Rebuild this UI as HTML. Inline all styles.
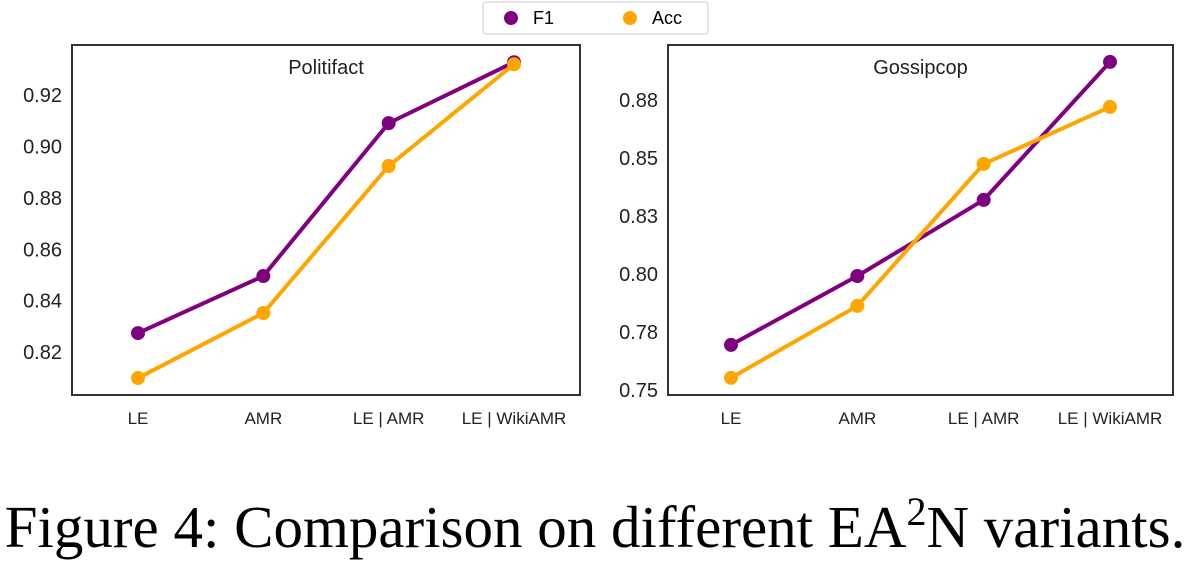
<!DOCTYPE html>
<html><head><meta charset="utf-8"><style>
body{margin:0;background:#fff;width:1191px;height:570px;overflow:hidden}
svg text{font-family:"Liberation Sans",sans-serif}
</style></head><body>
<svg id="chart" width="1191" height="570">
<g id="legend">
<rect x="483" y="2" width="225" height="32" rx="3" fill="#fff" stroke="#ccc"/>
<circle cx="511" cy="18" r="7" fill="#800080"/>
<text x="533" y="24" font-size="18">F1</text>
<circle cx="630" cy="18" r="7" fill="#FFA500"/>
<text x="652" y="24" font-size="18">Acc</text>
</g>
<text x="595" y="547" font-size="59" text-anchor="middle" style="font-family:'Liberation Serif',serif">Figure 4: Comparison on different EA<tspan dy="-22" font-size="40">2</tspan><tspan dy="22">N variants.</tspan></text>
</svg>
<script>
const categories=["LE","AMR","LE | AMR","LE | WikiAMR"];
const politiF1=[0.8274,0.8496,0.9091,0.9328];
const politiAcc=[0.8099,0.8352,0.8924,0.9320];
const gossipF1=[0.7694,0.7991,0.8319,0.8914];
const gossipAcc=[0.7552,0.7862,0.8474,0.8720];
const politiTicks=[0.82,0.84,0.86,0.88,0.90,0.92];
const politiTickLabels=["0.82","0.84","0.86","0.88","0.90","0.92"];
const gossipTicks=[0.75,0.775,0.80,0.825,0.85,0.875];
const gossipTickLabels=["0.75","0.78","0.80","0.83","0.85","0.88"];
const svg=document.getElementById('chart');
const NS="http://www.w3.org/2000/svg";
function mk(t,a,p){const e=document.createElementNS(NS,t);for(const k in a)e.setAttribute(k,a[k]);(p||svg).appendChild(e);return e;}
function panel(o){
  const g=mk('g',{});
  
  
  const x=i=>o.x0+o.xPad+i*(o.x1-o.x0-2*o.xPad)/(categories.length-1);
  const y=v=>o.y1-(v-o.vmin)/(o.vmax-o.vmin)*(o.y1-o.y0);
  const fr=mk('rect',{x:o.x0,y:o.y0,width:o.x1-o.x0,height:o.y1-o.y0,fill:'none',stroke:'#333','stroke-width':2},g);
  
  
  o.ticks.forEach((t,i)=>{
    const tx=mk('text',{x:o.x0-10,y:y(t)+7,'font-size':20,'text-anchor':'end',fill:'#222'},g);
    tx.textContent=o.labels[i];
    
    
  });
  categories.forEach((c,i)=>{
    const tx=mk('text',{x:x(i),y:o.y1+29,'font-size':17,'text-anchor':'middle',fill:'#222'},g);
    tx.textContent=c;
    
    
  });
  const ti=mk('text',{x:(o.x0+o.x1)/2,y:o.y0+29,'font-size':20,'text-anchor':'middle',fill:'#222'},g);
  ti.textContent=o.title;
  
  
  [[o.f1,'#800080','f1'],[o.acc,'#FFA500','acc']].forEach(([d,col,n])=>{
    const pl=mk('polyline',{points:d.map((v,i)=>x(i)+','+y(v)).join(' '),fill:'none',stroke:col,'stroke-width':4,'stroke-linejoin':'round'},g);
    
    
    d.forEach((v,i)=>{
      const c=mk('circle',{cx:x(i),cy:y(v),r:7,fill:col},g);
      
      
    });
  });
}
panel({name:'politifact-panel',title:'Politifact',x0:72,x1:580,y0:45,y1:395,xPad:66,vmin:0.8033,vmax:0.9395,ticks:politiTicks,labels:politiTickLabels,f1:politiF1,acc:politiAcc});
panel({name:'gossipcop-panel',title:'Gossipcop',x0:668,x1:1173,y0:45,y1:395,xPad:63,vmin:0.7478,vmax:0.8987,ticks:gossipTicks,labels:gossipTickLabels,f1:gossipF1,acc:gossipAcc});
svg.appendChild(document.getElementById('legend'));
</script>
</body></html>
